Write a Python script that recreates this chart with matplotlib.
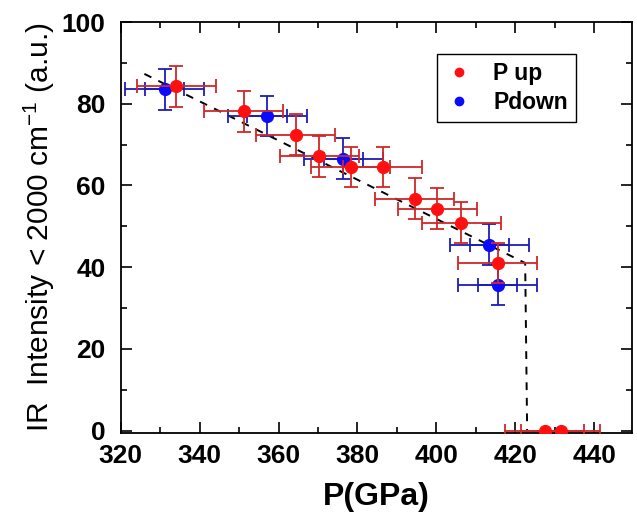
import matplotlib.pyplot as plt
from matplotlib.ticker import MultipleLocator

# P up (red)
pup_p = [334.1, 351.2, 364.3, 370.3, 378.3, 386.4, 394.5, 400.2, 406.3, 415.5, 427.4, 431.5]
pup_i = [84.3, 78.1, 72.4, 67.1, 64.5, 64.5, 56.7, 54.3, 50.9, 41.0, 0.0, 0.0]
pup_perr = [10, 10, 10, 10, 10, 10, 10, 10, 10, 10, 10, 10]
pup_ierr = [5, 5, 5, 5, 5, 5, 5, 5, 5, 5, 0, 0]

# P down (blue)
pdown_p = [331.1, 357.1, 376.4, 413.4, 415.5]
pdown_i = [83.5, 77.0, 66.5, 45.5, 35.7]
pdown_perr = [10, 10, 10, 10, 10]
pdown_perr_inner = [5, 5, 5, 5, 5]
pdown_ierr = [5, 5, 5, 5, 5]

# dashed guide line
guide_p = [326.0, 422.5, 423.0]
guide_i = [87.3, 41.0, 0.0]


def main() -> None:
    plt.rcParams["font.family"] = ["Liberation Sans", "DejaVu Sans"]
    plt.rcParams["mathtext.fontset"] = "custom"
    plt.rcParams["mathtext.rm"] = "Liberation Sans"

    fig = plt.figure(figsize=(6.37, 5.24), dpi=100)
    ax = fig.add_axes([0.1895, 0.1737, 0.8022, 0.7843])

    ax.plot(guide_p, guide_i, color="black", ls=(0, (4, 4)), lw=1.4, zorder=1)

    ax.errorbar(pup_p, pup_i, xerr=pup_perr, yerr=pup_ierr, fmt="o", color="#ff1010",
                ms=8.5, ecolor="#d02828", elinewidth=1.3, capsize=5, capthick=1.3, zorder=3)
    ax.errorbar(pdown_p, pdown_i, xerr=pdown_perr_inner, fmt="none",
                ecolor="#1c1cb8", elinewidth=1.3, capsize=5, capthick=1.3, zorder=2)
    ax.errorbar(pdown_p, pdown_i, xerr=pdown_perr, yerr=pdown_ierr, fmt="o", color="#0a0aff",
                ms=8.5, ecolor="#1c1cb8", elinewidth=1.3, capsize=5, capthick=1.3, zorder=2)

    ax.plot([], [], "o", color="#ff1010", ms=6, label="P up")
    ax.plot([], [], "o", color="#0a0aff", ms=6, label="Pdown")
    leg = ax.legend(loc="upper left", bbox_to_anchor=(0.597, 0.95),
                    prop={"size": 16.5, "weight": "bold"},
                    frameon=True, fancybox=False, edgecolor="black", framealpha=1,
                    handlelength=1.2, handletextpad=0.9, borderpad=0.35, labelspacing=0.25)
    leg.get_frame().set_linewidth(1.0)

    ax.set_xlim(320, 449.5)
    ax.set_ylim(-0.6, 100)
    ax.xaxis.set_major_locator(MultipleLocator(20))
    ax.xaxis.set_minor_locator(MultipleLocator(10))
    ax.yaxis.set_major_locator(MultipleLocator(20))
    ax.yaxis.set_minor_locator(MultipleLocator(10))
    ax.tick_params(which="both", direction="in", top=True, right=True, width=1.2)
    ax.tick_params(which="major", length=8)
    ax.tick_params(which="minor", length=4)
    ax.tick_params(axis="x", which="major", pad=8)
    ax.tick_params(axis="y", which="major", pad=11)
    for lab in ax.get_xticklabels() + ax.get_yticklabels():
        lab.set_fontsize(19)
        lab.set_fontweight("bold")
    for s in ax.spines.values():
        s.set_linewidth(1.3)

    ax.set_xlabel("P(GPa)", fontsize=23, fontweight="bold", labelpad=10)
    ax.set_ylabel("IR  Intensity < 2000 cm$^{-1}$ (a.u.)", fontsize=21.5, labelpad=3)

    fig.savefig("out.png", dpi=100)


if __name__ == "__main__":
    main()
